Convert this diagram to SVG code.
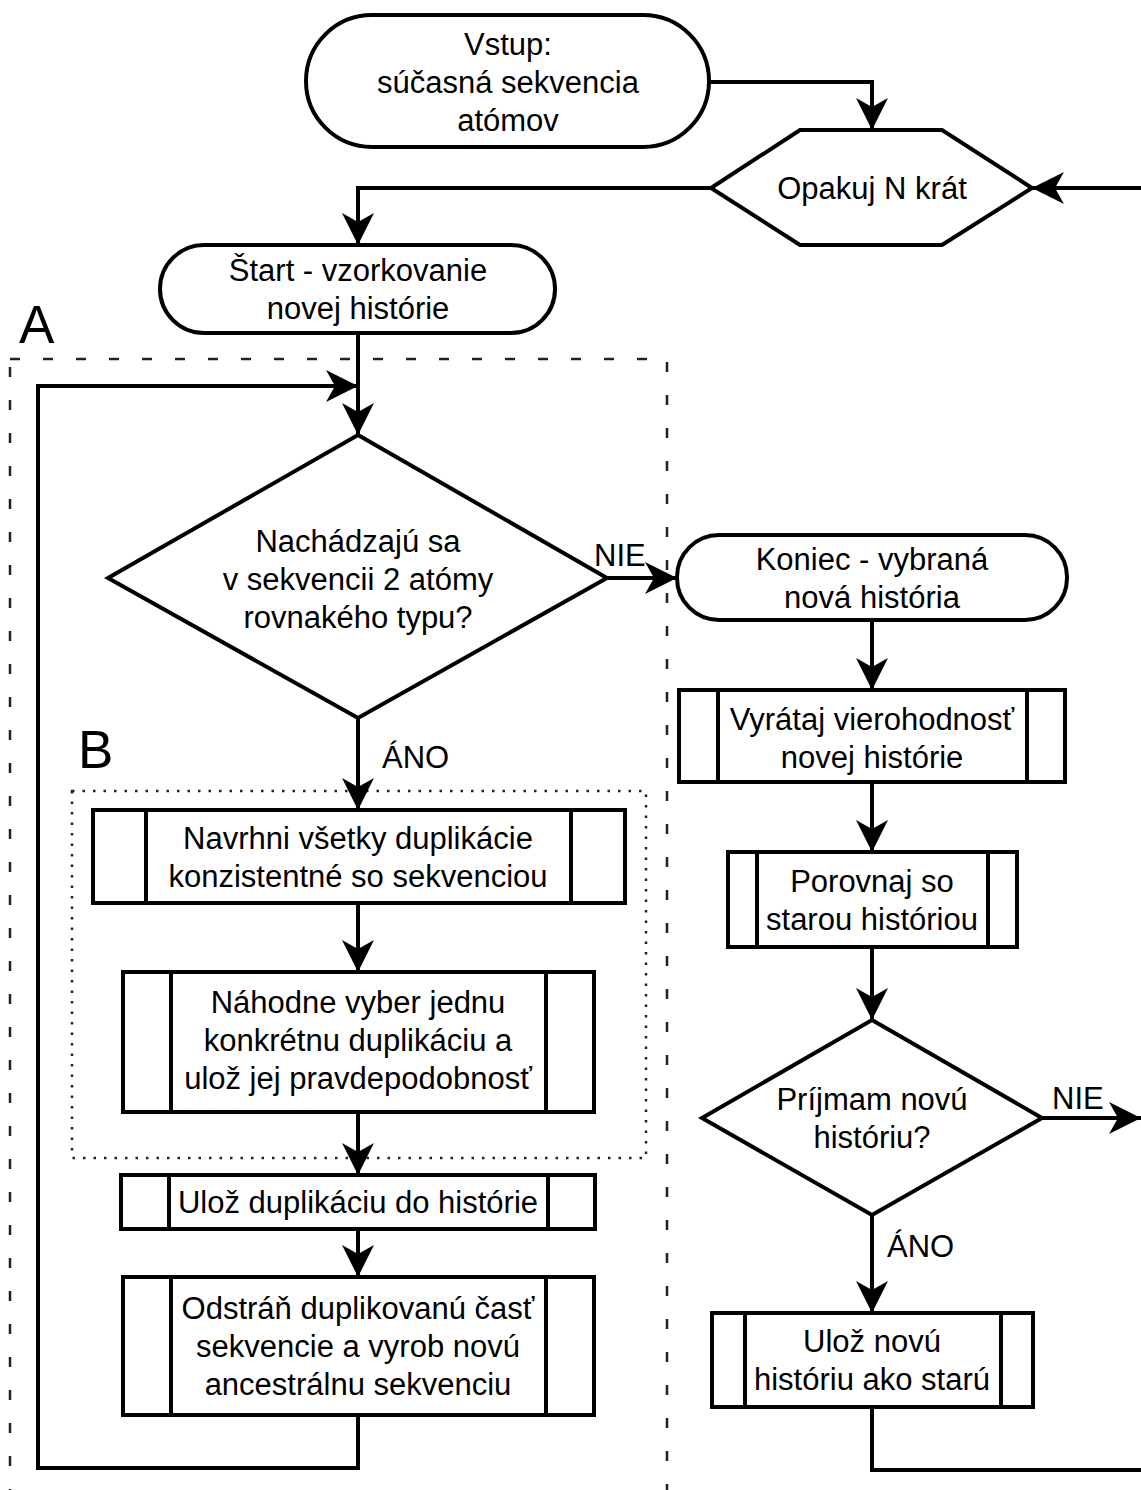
<svg xmlns="http://www.w3.org/2000/svg" width="1141" height="1490" viewBox="0 0 1141 1490">
  <style>
    .shape { fill: #ffffff; stroke: #000000; stroke-width: 4; }
    .inner { fill: none; stroke: #000000; stroke-width: 4; }
    .edge { fill: none; stroke: #000000; stroke-width: 4; }
    .lbl { font-family: "Liberation Sans", Arial, sans-serif; font-size: 31px; fill: #000000; text-anchor: middle; }
    .elbl { font-family: "Liberation Sans", Arial, sans-serif; font-size: 31px; fill: #000000; }
    .big { font-family: "Liberation Sans", Arial, sans-serif; font-size: 53px; fill: #000000; }
    .dashed { fill: none; stroke: #222222; stroke-width: 2.5; stroke-dasharray: 10 23; }
    .dotted { fill: none; stroke: #222222; stroke-width: 2.5; stroke-dasharray: 2.5 8; }
  </style>
  <defs>
    <marker id="arrow" viewBox="0 0 32 32" refX="32" refY="16" markerWidth="32" markerHeight="32" markerUnits="userSpaceOnUse" orient="auto">
      <path d="M0,0 L32,16 L0,32 L9,16 Z" fill="#000000"/>
    </marker>
  </defs>
  <rect width="1141" height="1490" fill="#ffffff"/>

  <!-- region frames -->
  <g id="region-a">
    <rect class="dashed" x="10" y="359" width="657" height="1200"/>
    <text class="big" x="19" y="343">A</text>
  </g>
  <g id="region-b">
    <rect class="dotted" x="72" y="791" width="574" height="367"/>
    <text class="big" x="78" y="768">B</text>
  </g>

  <!-- connectors -->
  <g id="connectors">
    <path class="edge" d="M709,82 H872 V130" marker-end="url(#arrow)"/>
    <path class="edge" d="M1141,188 H1032" marker-end="url(#arrow)"/>
    <path class="edge" d="M711,188 H358 V245" marker-end="url(#arrow)"/>
    <path class="edge" d="M358,333 V435" marker-end="url(#arrow)"/>
    <path class="edge" d="M358,1415 V1468 H38 V386 H358" marker-end="url(#arrow)"/>
    <path class="edge" d="M607,578 H677" marker-end="url(#arrow)"/>
    <text class="elbl" x="594" y="566">NIE</text>
    <path class="edge" d="M358,718 V810" marker-end="url(#arrow)"/>
    <text class="elbl" x="382" y="768">ÁNO</text>
    <path class="edge" d="M358,903 V972" marker-end="url(#arrow)"/>
    <path class="edge" d="M358,1112 V1175" marker-end="url(#arrow)"/>
    <path class="edge" d="M358,1229 V1277" marker-end="url(#arrow)"/>
    <path class="edge" d="M872,620 V690" marker-end="url(#arrow)"/>
    <path class="edge" d="M872,782 V852" marker-end="url(#arrow)"/>
    <path class="edge" d="M872,947 V1020" marker-end="url(#arrow)"/>
    <path class="edge" d="M1042,1118 H1141" marker-end="url(#arrow)"/>
    <text class="elbl" x="1052" y="1109">NIE</text>
    <path class="edge" d="M872,1215 V1313" marker-end="url(#arrow)"/>
    <text class="elbl" x="887" y="1257">ÁNO</text>
    <path class="edge" d="M872,1407 V1470 H1141"/>
  </g>

  <!-- nodes -->
  <g id="input">
    <rect class="shape" x="306" y="15" width="403" height="132" rx="66" ry="66"/>
    <text class="lbl" x="508" y="55">Vstup:</text>
    <text class="lbl" x="508" y="93">súčasná sekvencia</text>
    <text class="lbl" x="508" y="131">atómov</text>
  </g>
  <g id="repeat">
    <polygon class="shape" points="711,188 800,130 942,130 1032,188 942,245 800,245"/>
    <text class="lbl" x="872" y="199">Opakuj N krát</text>
  </g>
  <g id="start">
    <rect class="shape" x="160" y="245" width="395" height="88" rx="44" ry="44"/>
    <text class="lbl" x="358" y="281">Štart - vzorkovanie</text>
    <text class="lbl" x="358" y="319">novej histórie</text>
  </g>
  <g id="same-type">
    <polygon class="shape" points="358,435 607,578 358,718 108,578"/>
    <text class="lbl" x="358" y="552">Nachádzajú sa</text>
    <text class="lbl" x="358" y="590">v sekvencii 2 atómy</text>
    <text class="lbl" x="358" y="628">rovnakého typu?</text>
  </g>
  <g id="propose">
    <rect class="shape" x="93" y="810" width="532" height="93"/>
    <line class="inner" x1="146" y1="810" x2="146" y2="903"/>
    <line class="inner" x1="571" y1="810" x2="571" y2="903"/>
    <text class="lbl" x="358" y="849">Navrhni všetky duplikácie</text>
    <text class="lbl" x="358" y="887">konzistentné so sekvenciou</text>
  </g>
  <g id="choose">
    <rect class="shape" x="123" y="972" width="471" height="140"/>
    <line class="inner" x1="171" y1="972" x2="171" y2="1112"/>
    <line class="inner" x1="546" y1="972" x2="546" y2="1112"/>
    <text class="lbl" x="358" y="1013">Náhodne vyber jednu</text>
    <text class="lbl" x="358" y="1051">konkrétnu duplikáciu a</text>
    <text class="lbl" x="358" y="1089">ulož jej pravdepodobnosť</text>
  </g>
  <g id="store-dup">
    <rect class="shape" x="121" y="1175" width="474" height="54"/>
    <line class="inner" x1="169" y1="1175" x2="169" y2="1229"/>
    <line class="inner" x1="548" y1="1175" x2="548" y2="1229"/>
    <text class="lbl" x="358" y="1213">Ulož duplikáciu do histórie</text>
  </g>
  <g id="remove">
    <rect class="shape" x="123" y="1277" width="471" height="138"/>
    <line class="inner" x1="171" y1="1277" x2="171" y2="1415"/>
    <line class="inner" x1="546" y1="1277" x2="546" y2="1415"/>
    <text class="lbl" x="358" y="1319">Odstráň duplikovanú časť</text>
    <text class="lbl" x="358" y="1357">sekvencie a vyrob novú</text>
    <text class="lbl" x="358" y="1395">ancestrálnu sekvenciu</text>
  </g>
  <g id="end">
    <rect class="shape" x="677" y="535" width="390" height="85" rx="42" ry="42"/>
    <text class="lbl" x="872" y="570">Koniec - vybraná</text>
    <text class="lbl" x="872" y="608">nová história</text>
  </g>
  <g id="likelihood">
    <rect class="shape" x="679" y="690" width="386" height="92"/>
    <line class="inner" x1="718" y1="690" x2="718" y2="782"/>
    <line class="inner" x1="1027" y1="690" x2="1027" y2="782"/>
    <text class="lbl" x="872" y="730">Vyrátaj vierohodnosť</text>
    <text class="lbl" x="872" y="768">novej histórie</text>
  </g>
  <g id="compare">
    <rect class="shape" x="728" y="852" width="289" height="95"/>
    <line class="inner" x1="757" y1="852" x2="757" y2="947"/>
    <line class="inner" x1="988" y1="852" x2="988" y2="947"/>
    <text class="lbl" x="872" y="892">Porovnaj so</text>
    <text class="lbl" x="872" y="930">starou históriou</text>
  </g>
  <g id="accept">
    <polygon class="shape" points="872,1020 1042,1118 872,1215 702,1118"/>
    <text class="lbl" x="872" y="1110">Príjmam novú</text>
    <text class="lbl" x="872" y="1148">históriu?</text>
  </g>
  <g id="save">
    <rect class="shape" x="712" y="1313" width="321" height="94"/>
    <line class="inner" x1="745" y1="1313" x2="745" y2="1407"/>
    <line class="inner" x1="1001" y1="1313" x2="1001" y2="1407"/>
    <text class="lbl" x="872" y="1352">Ulož novú</text>
    <text class="lbl" x="872" y="1390">históriu ako starú</text>
  </g>
</svg>
